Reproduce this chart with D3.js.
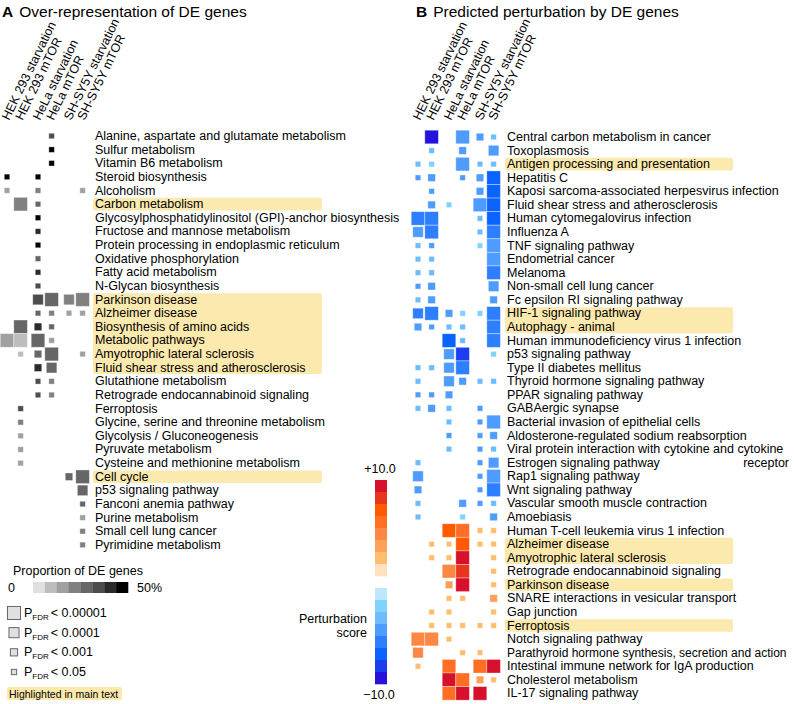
<!DOCTYPE html>
<html>
<head>
<meta charset="utf-8">
<script src="https://cdn.jsdelivr.net/npm/d3@7"></script>
<style>
  body { margin: 0; background: #fff; }
  text { font-family: "Liberation Sans", Arial, sans-serif; fill: #000; }
</style>
</head>
<body>
<div id="chart"></div>
<script>
const _ = null;

const cellLines = ['HEK 293', 'HeLa', 'SH-SY5Y'];
const treatments = ['starvation', 'mTOR'];

// Panel A: over-representation
const rowsA = [
  'Alanine, aspartate and glutamate metabolism', 'Sulfur metabolism', 'Vitamin B6 metabolism',
  'Steroid biosynthesis', 'Alcoholism', 'Carbon metabolism',
  'Glycosylphosphatidylinositol (GPI)-anchor biosynthesis', 'Fructose and mannose metabolism',
  'Protein processing in endoplasmic reticulum', 'Oxidative phosphorylation', 'Fatty acid metabolism',
  'N-Glycan biosynthesis', 'Parkinson disease', 'Alzheimer disease', 'Biosynthesis of amino acids',
  'Metabolic pathways', 'Amyotrophic lateral sclerosis', 'Fluid shear stress and atherosclerosis',
  'Glutathione metabolism', 'Retrograde endocannabinoid signaling', 'Ferroptosis',
  'Glycine, serine and threonine metabolism', 'Glycolysis / Gluconeogenesis', 'Pyruvate metabolism',
  'Cysteine and methionine metabolism', 'Cell cycle', 'p53 signaling pathway', 'Fanconi anemia pathway',
  'Purine metabolism', 'Small cell lung cancer', 'Pyrimidine metabolism'
];
const highlightA = ['Carbon metabolism', 'Parkinson disease', 'Alzheimer disease', 'Biosynthesis of amino acids',
  'Metabolic pathways', 'Amyotrophic lateral sclerosis', 'Fluid shear stress and atherosclerosis', 'Cell cycle'];
// proportion of DE genes (%), columns: HEK s, HEK m, HeLa s, HeLa m, SH s, SH m
const propA = [
  [_, _, _, 34, _, _], [_, _, _, 47, _, _], [_, _, _, 47, _, _], [47, _, 47, _, _, _],
  [15, _, 22, _, _, 15], [_, 22, 30, _, _, _], [_, _, 47, _, _, _], [_, _, 42, _, _, _],
  [_, _, 47, _, _, _], [_, _, 26, _, _, _], [_, _, 40, _, _, _], [_, _, 36, _, _, _],
  [_, _, 34, 28, 20, 24], [_, _, 28, 22, 15, 15], [_, 28, 42, 26, _, _], [16, 10, 30, 15, _, _],
  [_, 10, 30, 26, _, 15], [_, _, 38, 30, _, _], [_, _, 36, 22, _, _], [_, _, 34, 22, _, _],
  [_, 36, _, _, _, _], [_, 22, _, _, _, _], [_, 15, _, _, _, _], [_, 15, _, _, _, _],
  [_, 15, _, _, _, _], [_, _, _, _, 28, 26], [_, _, _, _, _, 30], [_, _, _, _, _, 28],
  [_, _, _, _, _, 15], [_, _, _, _, _, 20], [_, _, _, _, _, 24]
];
// FDR level: 1 <0.05, 2 <0.001, 3 <0.0001, 4 <0.00001
const sigA = [
  [0,0,0,1,0,0], [0,0,0,1,0,0], [0,0,0,1,0,0], [1,0,1,0,0,0],
  [1,0,1,0,0,1], [0,4,1,0,0,0], [0,0,1,0,0,0], [0,0,1,0,0,0],
  [0,0,1,0,0,0], [0,0,1,0,0,0], [0,0,1,0,0,0], [0,0,1,0,0,0],
  [0,0,3,4,3,4], [0,0,1,1,1,1], [0,4,2,1,0,0], [4,4,4,1,0,0],
  [0,1,2,4,0,1], [0,0,2,3,0,0], [0,0,1,1,0,0], [0,0,1,1,0,0],
  [0,1,0,0,0,0], [0,1,0,0,0,0], [0,1,0,0,0,0], [0,1,0,0,0,0],
  [0,1,0,0,0,0], [0,0,0,0,2,4], [0,0,0,0,0,3], [0,0,0,0,0,1],
  [0,0,0,0,0,1], [0,0,0,0,0,1], [0,0,0,0,0,1]
];

// Panel B: predicted perturbation
const rowsB = [
  'Central carbon metabolism in cancer', 'Toxoplasmosis', 'Antigen processing and presentation',
  'Hepatitis C', 'Kaposi sarcoma-associated herpesvirus infection', 'Fluid shear stress and atherosclerosis',
  'Human cytomegalovirus infection', 'Influenza A', 'TNF signaling pathway', 'Endometrial cancer',
  'Melanoma', 'Non-small cell lung cancer', 'Fc epsilon RI signaling pathway', 'HIF-1 signaling pathway',
  'Autophagy - animal', 'Human immunodeficiency virus 1 infection', 'p53 signaling pathway',
  'Type II diabetes mellitus', 'Thyroid hormone signaling pathway', 'PPAR signaling pathway',
  'GABAergic synapse', 'Bacterial invasion of epithelial cells', 'Aldosterone-regulated sodium reabsorption',
  'Viral protein interaction with cytokine and cytokine receptor', 'Estrogen signaling pathway',
  'Rap1 signaling pathway', 'Wnt signaling pathway', 'Vascular smooth muscle contraction', 'Amoebiasis',
  'Human T-cell leukemia virus 1 infection', 'Alzheimer disease', 'Amyotrophic lateral sclerosis',
  'Retrograde endocannabinoid signaling', 'Parkinson disease', 'SNARE interactions in vesicular transport',
  'Gap junction', 'Ferroptosis', 'Notch signaling pathway', 'Parathyroid hormone synthesis, secretion and action',
  'Intestinal immune network for IgA production', 'Cholesterol metabolism', 'IL-17 signaling pathway'
];
const highlightB = ['Antigen processing and presentation', 'HIF-1 signaling pathway', 'Autophagy - animal',
  'Alzheimer disease', 'Amyotrophic lateral sclerosis', 'Parkinson disease', 'Ferroptosis'];
const scoreB = [
  [_, -8.8, _, -5, -4.5, -3], [_, -3, _, -4.5, _, -4.5], [-3, -2, _, -5, -3, -3],
  [-4.5, -4.5, _, -4.5, -4.5, -6.5], [_, -4.5, _, _, -4.5, -7], [_, -4.5, -2, _, -5, -7],
  [-6, -6, _, _, -3, -7], [-4.5, -6, _, _, -3, -5.5], [-3, -4.5, _, _, -2, -4.5],
  [-3, -3, _, _, _, -4.5], [-3, -3, _, _, _, -5.5], [-4.5, -4.5, _, _, _, -4.5],
  [-3, -4.5, _, _, _, -4.5], [-5.5, -5.5, -4.5, -2, -2, -6], [-4.5, -4.5, -3, -3, _, -5.5],
  [_, _, -7, -3, _, -5.5], [_, _, -4.5, -8, _, -2], [-3, -3, -4.5, -5.5, _, _],
  [-3, _, -5, -4.5, -3, -3], [-4.5, -4.5, -4.5, _, _, _], [-3, -4.5, -3, _, -4.5, _],
  [_, _, -3, _, -4.5, -4.5], [_, _, -4.5, _, -4.5, -4.5], [_, _, -3, _, -4.5, -3],
  [-3, _, _, _, -4.5, -5], [-5, _, _, _, -4.5, -4.5], [-4.5, _, _, _, -4.5, -5.5],
  [-3, _, _, -4.5, -4.5, -3], [-3, _, _, -2, _, -4.5], [_, _, 7, 5.5, 2, 2],
  [_, 2, 2, 6.5, 2, 2], [_, 2, 2, 9.5, _, 2], [_, _, 4.5, 8, _, 2],
  [_, _, 3, 9.5, _, 2], [_, _, 2, 2, _, 3], [_, 2, 2, _, _, 2],
  [_, 2, 2, 2, 2, 2], [4.5, 4.5, 2, _, _, _], [4, _, _, 2, 2, _],
  [2, _, 5.5, _, 5.5, 9.5], [_, _, 9.5, 5.5, 3, 2], [_, _, 5.5, 9.5, 9, _]
];
const sigB = [
  [0,4,0,4,2,1], [0,1,0,2,0,3], [1,1,0,4,1,1], [1,2,0,1,2,4], [0,1,0,0,2,4], [0,2,1,0,4,4],
  [4,4,0,0,1,4], [3,4,0,0,1,4], [1,1,0,0,1,4], [1,1,0,0,0,4], [1,1,0,0,0,4], [1,2,0,0,0,3],
  [1,2,0,0,0,2], [3,4,2,1,1,4], [2,1,1,1,0,4], [0,0,4,1,0,4], [0,0,3,4,0,1], [1,1,3,4,0,0],
  [1,0,3,2,1,1], [1,1,2,0,0,0], [1,2,1,0,1,0], [0,0,1,0,1,4], [0,0,1,0,1,2], [0,0,1,0,1,1],
  [1,0,0,0,1,3], [3,0,0,0,1,4], [2,0,0,0,1,4], [1,0,0,2,1,1], [1,0,0,1,0,2], [0,0,4,4,1,1],
  [0,1,1,4,1,1], [0,1,1,4,0,1], [0,0,4,4,0,1], [0,0,2,4,0,1], [0,0,1,1,0,2], [0,1,1,0,0,1],
  [0,1,1,1,1,1], [4,4,1,0,0,0], [3,0,0,1,1,0], [1,0,4,0,4,4], [0,0,4,4,2,1], [0,0,4,4,4,0]
];

const fdrLabels = ['0.05', '0.001', '0.0001', '0.00001'];
const grays = ['#e0e0e0', '#bdbdbd', '#a0a0a0', '#808080', '#666666', '#4d4d4d', '#2a2a2a', '#000000'];
const blues = ['#2512dc', '#1a3ef0', '#0a62ff', '#2e7fff', '#4e9cff', '#6cbcff', '#80d2ff', '#bde6ff'];
const reds = ['#ffe2bd', '#ffbe6e', '#ffa05a', '#ff8744', '#ff6e22', '#ff5a00', '#e9341e', '#d7102c'];
const hlColor = '#fce9ad';

const width = 794;
const height = 704;
const fs = 12.5;
const svg = d3.select('#chart').append('svg').attr('width', width).attr('height', height);

const columns = cellLines.flatMap(l => treatments.map(t => `${l} ${t}`));
const lineX = d3.scalePoint().domain(cellLines).range([0, 62]);
const treatX = d3.scalePoint().domain(treatments).range([0, 13.6]);
const colX = (x0, i) => x0 + lineX(cellLines[Math.floor(i / 2)]) + treatX(treatments[i % 2]);
const size = d3.scaleOrdinal().domain([1, 2, 3, 4]).range([5.5, 7.5, 10.5, 13.6]);
const gray = d3.scaleQuantize().domain([0, 50]).range(grays);
const perturb = d3.scaleQuantize().domain([-10, 10]).range(blues.concat(reds));
const wrapped = {
  'Viral protein interaction with cytokine and cytokine receptor': ['Viral protein interaction with cytokine and cytokine', 'receptor']
};

const drawPanel = (g, o) => {
  const y = d3.scalePoint().domain(o.rows).range([o.y0, o.y0 + o.step * (o.rows.length - 1)]);

  // highlight blocks (consecutive rows merged)
  const runs = [];
  o.rows.forEach((r, i) => {
    if (!o.highlight.includes(r)) return;
    const last = runs[runs.length - 1];
    if (last && last.end === i - 1) last.end = i;
    else runs.push({start: i, end: i});
  });
  g.selectAll('rect.hl').data(runs).join('rect')
    .attr('class', 'hl')
    .attr('x', o.labelX - 2)
    .attr('y', d => y(o.rows[d.start]) - o.step / 2 + 0.5)
    .attr('width', o.hlRight - o.labelX + 2)
    .attr('height', d => (d.end - d.start + 1) * o.step - 1)
    .attr('rx', 2)
    .attr('fill', hlColor);

  // column headers
  g.selectAll('text.col').data(columns).join('text')
    .attr('class', 'col')
    .attr('transform', (d, i) => `translate(${colX(o.x0, i) + 2},121) rotate(-64)`)
    .attr('font-size', fs)
    .text(d => d);

  // cells
  const cells = [];
  o.rows.forEach((r, ri) => o.sig[ri].forEach((s, ci) => {
    if (s) cells.push({r, ci, s, v: o.values[ri][ci]});
  }));
  g.selectAll('rect.cell').data(cells).join('rect')
    .attr('class', 'cell')
    .attr('x', d => colX(o.x0, d.ci) - size(d.s) / 2)
    .attr('y', d => y(d.r) - size(d.s) / 2)
    .attr('width', d => size(d.s))
    .attr('height', d => size(d.s))
    .attr('fill', d => o.color(d.v))
    .attr('stroke', '#fff')
    .attr('stroke-opacity', 0.45)
    .attr('stroke-width', 0.8);

  // row labels, font shrunk a little if they would run off the page
  g.selectAll('text.row').data(o.rows).join('text')
    .attr('class', 'row')
    .attr('x', o.labelX)
    .attr('y', d => y(d) + 4)
    .attr('font-size', fs)
    .text(d => wrapped[d] ? wrapped[d][0] : d)
    .each(function () {
      const room = width - 6 - o.labelX;
      const w = this.getComputedTextLength();
      if (w > room) d3.select(this).attr('font-size', Math.floor(fs * room / w * 10) / 10);
    });
  o.rows.filter(d => wrapped[d]).forEach(d => {
    g.append('text')
      .attr('x', 789)
      .attr('y', y(d) + 4 + o.step)
      .attr('text-anchor', 'end')
      .attr('font-size', fs)
      .text(wrapped[d][1]);
  });
};

// titles
const title = (x, letter, txt) => {
  const t = svg.append('text').attr('x', x).attr('y', 17).attr('font-size', 15.5);
  t.append('tspan').attr('font-weight', 'bold').text(letter);
  t.append('tspan').attr('dx', 6).text(txt);
};
title(2, 'A', 'Over-representation of DE genes');
title(416, 'B', 'Predicted perturbation by DE genes');

drawPanel(svg.append('g'), {
  rows: rowsA, highlight: highlightA, values: propA, sig: sigA, color: gray,
  x0: 7, labelX: 95, hlRight: 322, y0: 136, step: 13.63
});
drawPanel(svg.append('g'), {
  rows: rowsB, highlight: highlightB, values: scoreB, sig: sigB, color: perturb,
  x0: 418, labelX: 507, hlRight: 733, y0: 137, step: 13.57
});

// legend A: proportion
const legA = svg.append('g');
legA.append('text').attr('x', 13).attr('y', 575).attr('font-size', fs).text('Proportion of DE genes');
legA.append('text').attr('x', 8).attr('y', 592).attr('font-size', fs).text('0');
legA.append('text').attr('x', 137).attr('y', 592).attr('font-size', fs).text('50%');
const swX = d3.scaleBand().domain(d3.range(grays.length)).range([33, 128]);
legA.selectAll('rect.sw').data(grays).join('rect')
  .attr('x', (d, i) => swX(i)).attr('y', 582)
  .attr('width', swX.bandwidth() + 0.3).attr('height', 11)
  .attr('fill', d => d);

// legend A: FDR sizes
const fdrY = d3.scalePoint().domain([4, 3, 2, 1]).range([613, 672]);
const fdr = legA.selectAll('g.fdr').data([4, 3, 2, 1]).join('g').attr('class', 'fdr');
fdr.append('rect')
  .attr('x', d => 14 - size(d) / 2 * 0.96)
  .attr('y', d => fdrY(d) - size(d) / 2 * 0.96)
  .attr('width', d => size(d) * 0.96)
  .attr('height', d => size(d) * 0.96)
  .attr('fill', '#e0e0e0').attr('stroke', '#666').attr('stroke-width', 1);
const ft = fdr.append('text').attr('x', 24).attr('y', d => fdrY(d) + 4).attr('font-size', fs);
ft.append('tspan').text('P');
ft.append('tspan').attr('font-size', 8).attr('dy', 3).text('FDR');
ft.append('tspan').attr('dy', -3).attr('dx', 2).text(d => '< ' + fdrLabels[d - 1]);

legA.append('rect').attr('x', 7).attr('y', 687).attr('width', 115).attr('height', 13).attr('rx', 2).attr('fill', hlColor);
legA.append('text').attr('x', 9).attr('y', 697.5).attr('font-size', 10.5).text('Highlighted in main text');

// legend B: perturbation colour bar
const legB = svg.append('g');
const redY = d3.scaleBand().domain(d3.range(reds.length)).range([480, 576]);
const blueY = d3.scaleBand().domain(d3.range(blues.length)).range([588, 684]);
legB.selectAll('rect.r').data(reds.slice().reverse()).join('rect')
  .attr('x', 375).attr('y', (d, i) => redY(i)).attr('width', 12).attr('height', redY.bandwidth() + 0.3)
  .attr('fill', d => d);
legB.selectAll('rect.b').data(blues.slice().reverse()).join('rect')
  .attr('x', 375).attr('y', (d, i) => blueY(i)).attr('width', 12).attr('height', blueY.bandwidth() + 0.3)
  .attr('fill', d => d);
legB.append('text').attr('x', 380).attr('y', 473).attr('text-anchor', 'middle').attr('font-size', fs).text('+10.0');
legB.append('text').attr('x', 379).attr('y', 699).attr('text-anchor', 'middle').attr('font-size', fs).text('\u221210.0');
legB.append('text').attr('x', 367).attr('y', 623).attr('text-anchor', 'end').attr('font-size', fs).text('Perturbation');
legB.append('text').attr('x', 367).attr('y', 637).attr('text-anchor', 'end').attr('font-size', fs).text('score');
</script>
</body>
</html>
